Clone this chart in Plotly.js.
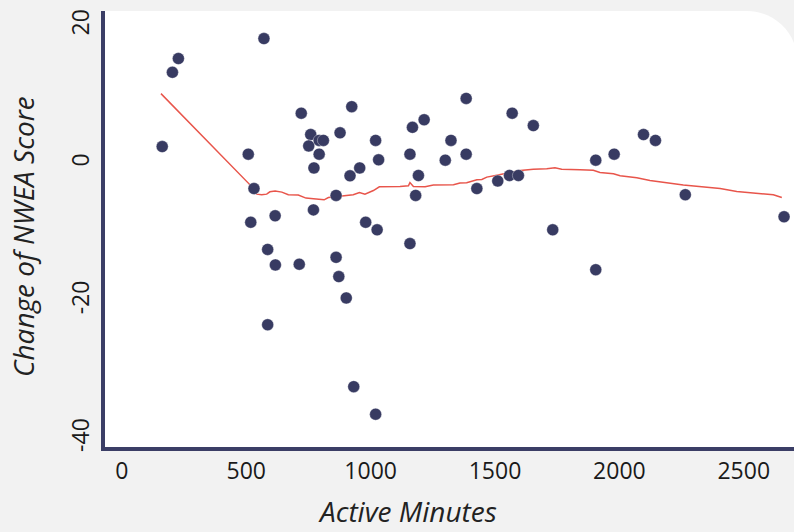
<!DOCTYPE html>
<html>
<head>
<meta charset="utf-8">
<script src="https://cdn.plot.ly/plotly-3.0.1.min.js"></script>
<style>html,body{margin:0;padding:0;background:#f2f2f2;}#chart{width:794px;height:532px;}</style>
</head>
<body>
<div id="chart"></div>
<script>
// Scatter data: Active Minutes vs Change of NWEA Score
const activeMinutes = [162, 203, 227, 571, 508, 531, 721, 759, 751, 793, 810, 793, 772, 877, 924, 1020, 1032, 956, 917, 861, 770, 518, 616, 980, 1026, 586, 617, 713, 861, 872, 902, 586, 932, 1020,
  1384, 1168, 1215, 1569, 1654, 1323, 1158, 1300, 1384, 1192, 1181, 1427, 1511, 1558, 1594, 1732, 1158,
  1905, 1979, 2097, 2145, 2265, 2662, 1905];
const scoreChange = [2.0, 12.8, 14.8, 17.7, 0.9, -4.1, 6.85, 3.75, 2.1, 2.9, 2.9, 0.9, -1.1, 4.0, 7.8, 2.9, 0.07, -1.1, -2.25, -5.1, -7.2, -9.0, -8.06, -9.0, -10.1, -12.95, -15.2, -15.1, -14.1, -16.9, -20.0, -23.9, -32.9, -36.9,
  9.0, 4.8, 5.9, 6.85, 5.05, 2.9, 0.9, 0.03, 0.9, -2.2, -5.1, -4.1, -3.0, -2.2, -2.2, -10.1, -12.1,
  0.03, 0.9, 3.75, 2.9, -5.0, -8.2, -15.9];

// Smoothed (lowess) trend line
const trendX = [157, 515, 531, 542, 562, 582, 595, 616, 643, 669, 709, 740, 770, 813, 830, 884, 930, 955, 977, 1011, 1035, 1118, 1152, 1158, 1172, 1219, 1252, 1333, 1359, 1386, 1427, 1447, 1467, 1507, 1547, 1601, 1654, 1708, 1741, 1768, 1842, 1895, 1922, 1976, 2003, 2070, 2123, 2257, 2405, 2472, 2619, 2653];
const trendY = [9.70, -3.56, -4.50, -4.91, -5.01, -4.91, -4.57, -4.47, -4.62, -5.01, -5.05, -5.49, -5.59, -5.74, -5.40, -5.15, -5.01, -4.68, -4.91, -4.39, -3.85, -3.80, -3.70, -3.22, -3.80, -3.85, -3.60, -3.56, -3.31, -3.27, -2.83, -2.79, -2.44, -2.15, -1.86, -1.48, -1.28, -1.23, -1.09, -1.28, -1.38, -1.45, -1.77, -1.96, -2.25, -2.54, -2.93, -3.60, -4.09, -4.53, -5.01, -5.40];

const xTicks = [0, 500, 1000, 1500, 2000, 2500];
const yTicks = [-40, -20, 0, 20];

(function () {
const W = 794, H = 532;
const M = {l: 105, r: 0, t: 11, b: 85};
const PW = W - M.l - M.r, PH = H - M.t - M.b;
const fx = p => (p - M.l) / PW;
const fy = p => (H - M.b - p) / PH;

// rounded white panel (top-right corner rounded)
const R = 50.5, cx = 747, pTop = 11, pRight = cx + R, pBottom = H - M.b, k = 0.5523;
const panelPath = 'M ' + fx(M.l) + ',' + fy(pBottom) +
  ' L ' + fx(M.l) + ',' + fy(pTop) +
  ' L ' + fx(cx) + ',' + fy(pTop) +
  ' C ' + fx(cx + k * R) + ',' + fy(pTop) + ' ' + fx(pRight) + ',' + fy(pTop + R - k * R) + ' ' + fx(pRight) + ',' + fy(pTop + R) +
  ' L ' + fx(pRight) + ',' + fy(pBottom) + ' Z';

const traces = [
  {
    x: trendX, y: trendY, type: 'scatter', mode: 'lines',
    line: {color: '#e8554b', width: 1.5}, hoverinfo: 'skip', showlegend: false
  },
  {
    x: activeMinutes, y: scoreChange, type: 'scatter', mode: 'markers',
    marker: {color: '#383b62', size: 12, line: {color: 'rgba(255,255,255,0.6)', width: 0.6}},
    showlegend: false
  }
];

const tickFont = {family: 'Open Sans, sans-serif', size: 23, color: '#1a1a1a'};
const titleFont = {family: 'Open Sans, sans-serif', size: 28, color: '#222'};

const layout = {
  width: W, height: H,
  margin: M,
  paper_bgcolor: '#f2f2f2',
  plot_bgcolor: 'rgba(0,0,0,0)',
  showlegend: false,
  xaxis: {
    range: [-68, 2702],
    tickvals: xTicks, ticktext: xTicks.map(String),
    showgrid: false, zeroline: false,
    showline: true, linecolor: '#3b3e66', linewidth: 4,
    ticks: '', tickfont: tickFont,
    ticklabelstandoff: 0
  },
  yaxis: {
    range: [-41.67, 21.71],
    tickvals: yTicks, ticktext: yTicks.map(String),
    showgrid: false, zeroline: false,
    showline: true, linecolor: '#3b3e66', linewidth: 4,
    ticks: '', tickangle: -90,
    tickfont: tickFont,
    ticklabelstandoff: 3,
    ticklabelshift: 3
  },
  shapes: [{
    type: 'path', xref: 'paper', yref: 'paper', path: panelPath,
    fillcolor: '#ffffff', line: {width: 0}, layer: 'below'
  }],
  annotations: [
    {text: '<i>Active Minutes</i>', xref: 'paper', yref: 'paper', x: fx(407), y: fy(531),
     xanchor: 'center', yanchor: 'bottom', borderpad: 0, showarrow: false, font: titleFont},
    {text: '<i>Change of NWEA Score</i>', xref: 'paper', yref: 'paper', x: fx(23), y: fy(237),
     xanchor: 'center', yanchor: 'middle', showarrow: false, textangle: -90, font: titleFont}
  ]
};

Plotly.newPlot('chart', traces, layout, {displayModeBar: false, staticPlot: true});
})();
</script>
</body>
</html>
